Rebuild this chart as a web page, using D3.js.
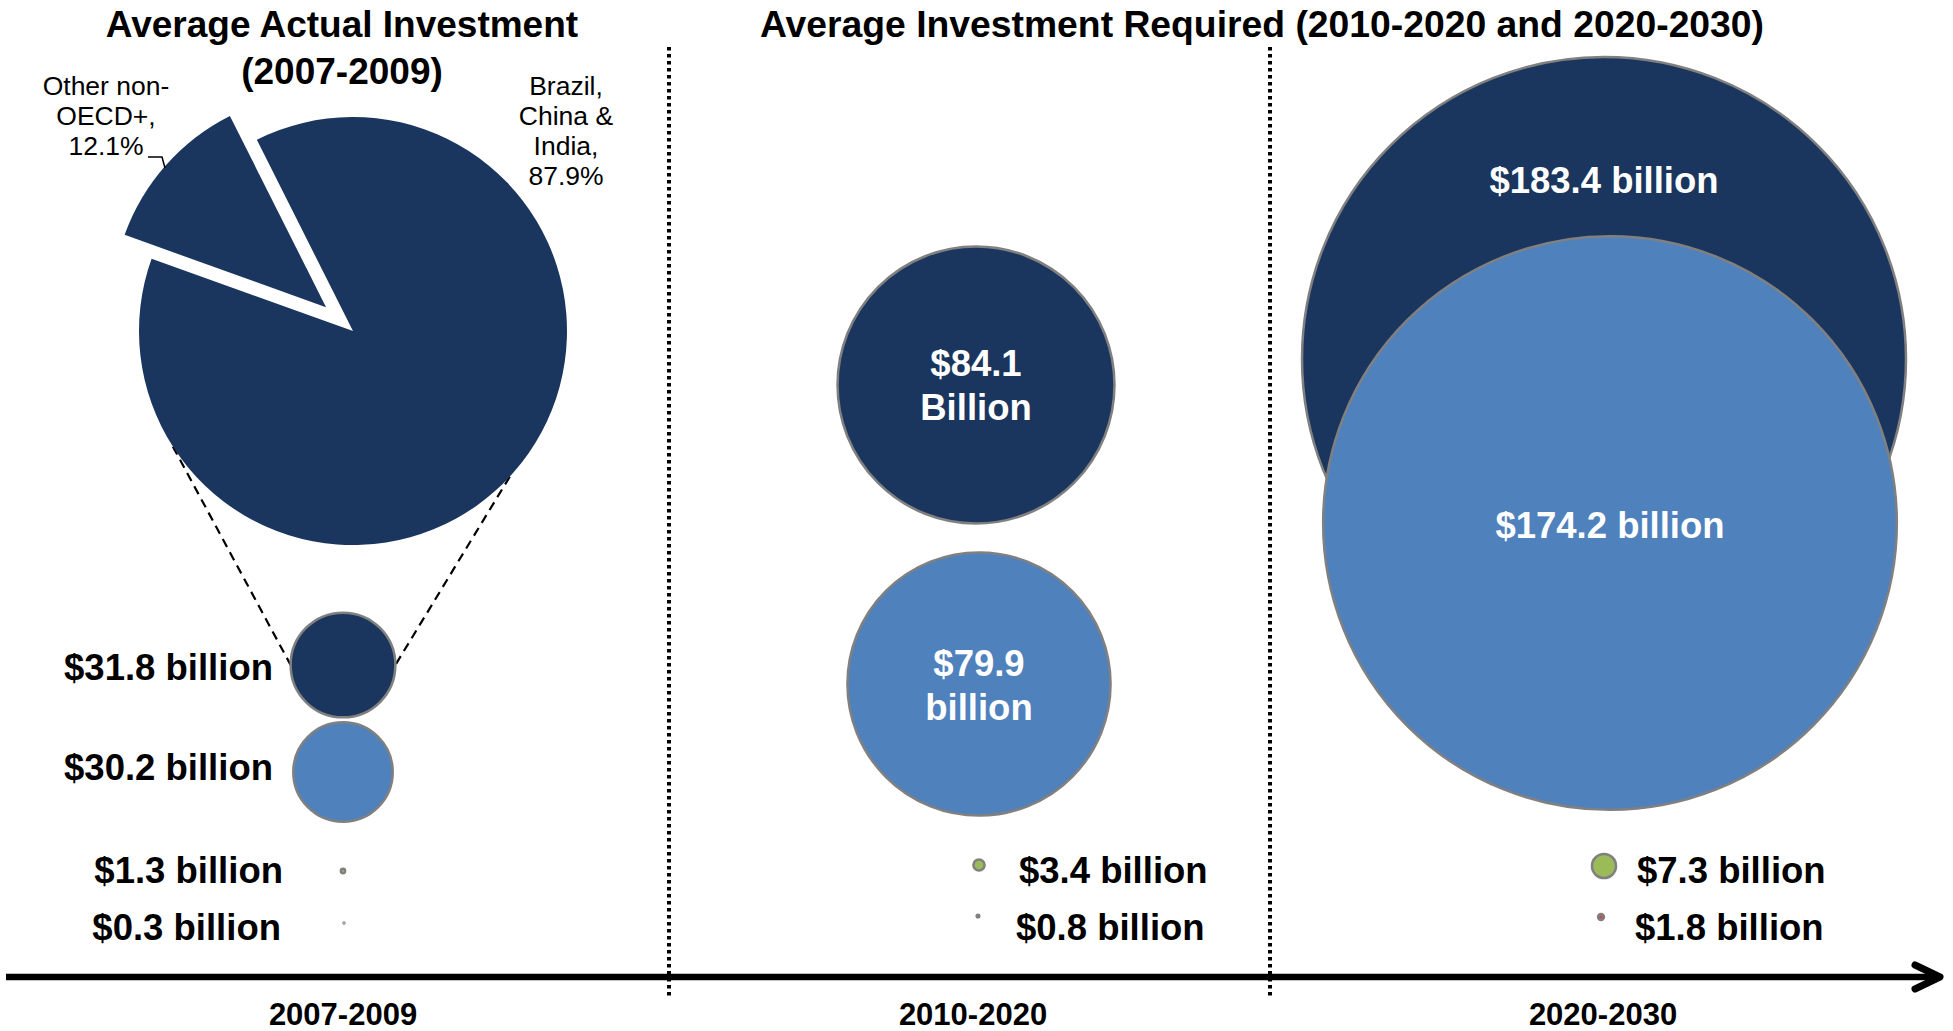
<!DOCTYPE html>
<html>
<head>
<meta charset="utf-8">
<script src="https://cdn.jsdelivr.net/npm/d3@7"></script>
<style>
  body { margin: 0; background: #fff; }
  svg { display: block; }
  text { font-family: "Liberation Sans", Arial, Helvetica, sans-serif; }
</style>
</head>
<body>
<svg id="chart" width="1953" height="1031"></svg>
<script>
// ---- Data (US$ billion per year) ----
const periods = ["2007-2009", "2010-2020", "2020-2030"];
const tier1Values = [31.8, 84.1, 183.4];
const tier2Values = [30.2, 79.9, 174.2];
const tier3Values = [1.3, 3.4, 7.3];
const tier4Values = [0.3, 0.8, 1.8];
const tier1Words = ["billion", "Billion", "billion"];

// Split of the 2007-2009 top tier
const pieShares = [87.9, 12.1];
const pieNames = [["Brazil,", "China &", "India,"], ["Other non-", "OECD+,"]];

const titleLeft = ["Average Actual Investment", "(2007-2009)"];
const titleRight = "Average Investment Required (2010-2020 and 2020-2030)";

// ---- Styling ----
const colors = ["#1b365e", "#4f81bd", "#9bbb59", "#c0504d"];
const outline = "#808080";

const svg = d3.select("#chart");

// Horizontal placement of the periods along the timeline
const x = d3.scalePoint().domain(periods).range([343, 1603]);

// Radius proportional to the value
const allValues = [...tier1Values, ...tier2Values, ...tier3Values, ...tier4Values];
const r = d3.scaleLinear().domain([0, d3.max(allValues)]).range([0, 302]);

const fmt = v => "$" + d3.format(".1f")(v);

// Vertical centres and small horizontal nudges for each tier in each period
const place = [
  // 2007-2009
  [{dx: 0, cy: 665}, {dx: 0, cy: 772}, {dx: 0, cy: 871}, {dx: 1, cy: 923}],
  // 2010-2020
  [{dx: 3, cy: 385}, {dx: 6, cy: 684}, {dx: 6, cy: 865}, {dx: 5, cy: 916}],
  // 2020-2030
  [{dx: 1, cy: 359}, {dx: 7, cy: 523}, {dx: 1, cy: 866}, {dx: -2, cy: 917}]
];

const tiers = [tier1Values, tier2Values, tier3Values, tier4Values];
const bubbles = [];
periods.forEach((p, i) => {
  tiers.forEach((vals, t) => {
    bubbles.push({
      period: p, pi: i, tier: t, value: vals[i],
      cx: x(p) + place[i][t].dx, cy: place[i][t].cy
    });
  });
});

// ---- Panel separators ----
const sepX = [669, 1270];
svg.append("g").selectAll("line").data(sepX).join("line")
  .attr("x1", d => d).attr("x2", d => d)
  .attr("y1", 47).attr("y2", 996)
  .attr("stroke", "#000").attr("stroke-width", 4)
  .attr("stroke-dasharray", "3.5,3.5");

// ---- Timeline arrow ----
const axisY = 977;
svg.append("line")
  .attr("x1", 6).attr("x2", 1936).attr("y1", axisY).attr("y2", axisY)
  .attr("stroke", "#000").attr("stroke-width", 6.5);
svg.append("path")
  .attr("d", `M1915,${axisY - 12}L1940,${axisY}L1915,${axisY + 12}`)
  .attr("fill", "none").attr("stroke", "#000").attr("stroke-width", 7)
  .attr("stroke-linecap", "round").attr("stroke-linejoin", "round");

svg.append("g").selectAll("text").data(periods).join("text")
  .attr("x", d => x(d)).attr("y", 1025)
  .attr("text-anchor", "middle")
  .attr("font-size", 31).attr("font-weight", "bold")
  .text(d => d);

// ---- Titles ----
svg.append("g").selectAll("text").data(titleLeft).join("text")
  .attr("x", 342).attr("y", (d, i) => 37 + i * 47)
  .attr("text-anchor", "middle")
  .attr("font-size", 37).attr("font-weight", "bold")
  .text(d => d);
svg.append("text")
  .attr("x", 1262).attr("y", 37)
  .attr("text-anchor", "middle")
  .attr("font-size", 37.3).attr("font-weight", "bold")
  .text(titleRight);

// ---- Pie of the 2007-2009 top tier ----
const pieC = {x: 353, y: 331}, pieR = 214, explode = 36;
const startA = -26.7 * Math.PI / 180;
const pie = d3.pie().sort(null).startAngle(startA).endAngle(startA + 2 * Math.PI);
const arcs = pie(pieShares);
const arc = d3.arc().innerRadius(0).outerRadius(pieR);

// Dashed guide lines from the pie down to the bubble it expands
const first = bubbles.find(b => b.pi === 0 && b.tier === 0);
const guideAngles = [237.3, 132.9].map(a => a * Math.PI / 180);
svg.append("g").selectAll("line").data(guideAngles).join("line")
  .attr("x1", a => pieC.x + pieR * Math.sin(a))
  .attr("y1", a => pieC.y - pieR * Math.cos(a))
  .attr("x2", (a, i) => first.cx + (i === 0 ? -1 : 1) * r(first.value))
  .attr("y2", first.cy)
  .attr("stroke", "#000").attr("stroke-width", 2.2)
  .attr("stroke-dasharray", "9,6");

const pieG = svg.append("g").attr("transform", `translate(${pieC.x},${pieC.y})`);
pieG.selectAll("path").data(arcs).join("path")
  .attr("d", arc)
  .attr("fill", colors[0])
  .attr("transform", (d, i) => {
    if (i === 0) return null;
    const mid = (d.startAngle + d.endAngle) / 2;
    return `translate(${explode * Math.sin(mid)},${-explode * Math.cos(mid)})`;
  });

// Pie labels
const pieLabelPos = [{x: 566, y: 95}, {x: 106, y: 95}];
arcs.forEach((d, i) => {
  const lines = [...pieNames[i], d3.format(".1f")(d.data) + "%"];
  svg.append("g").selectAll("text").data(lines).join("text")
    .attr("x", pieLabelPos[i].x).attr("y", (l, j) => pieLabelPos[i].y + j * 30)
    .attr("text-anchor", "middle")
    .attr("font-size", 26.5)
    .text(l => l);
});
// Leader line for the small slice
svg.append("path")
  .attr("d", "M148,157H162L165,168")
  .attr("fill", "none").attr("stroke", "#000").attr("stroke-width", 1.5);

// ---- Bubbles ----
svg.append("g").selectAll("circle").data(bubbles).join("circle")
  .attr("cx", d => d.cx).attr("cy", d => d.cy)
  .attr("r", d => r(d.value))
  .attr("fill", d => colors[d.tier])
  .attr("stroke", outline).attr("stroke-width", 2.5);

// ---- Value labels ----
const word = d => d.tier === 0 ? tier1Words[d.pi] : "billion";

// Labels written beside the bubbles
const sideLabels = [
  {pi: 0, tier: 0, x: 273, y: 680, anchor: "end"},
  {pi: 0, tier: 1, x: 273, y: 780, anchor: "end"},
  {pi: 0, tier: 2, x: 283, y: 883, anchor: "end"},
  {pi: 0, tier: 3, x: 281, y: 940, anchor: "end"},
  {pi: 1, tier: 2, x: 1019, y: 883, anchor: "start"},
  {pi: 1, tier: 3, x: 1016, y: 940, anchor: "start"},
  {pi: 2, tier: 2, x: 1637, y: 883, anchor: "start"},
  {pi: 2, tier: 3, x: 1635, y: 940, anchor: "start"}
];
svg.append("g").selectAll("text").data(sideLabels).join("text")
  .attr("x", d => d.x).attr("y", d => d.y)
  .attr("text-anchor", d => d.anchor)
  .attr("font-size", 36.5).attr("font-weight", "bold").attr("fill", "#000")
  .text(d => {
    const b = bubbles.find(q => q.pi === d.pi && q.tier === d.tier);
    return fmt(b.value) + " " + word(b);
  });

// Labels written inside the bubbles (baselines relative to the centre)
const insideLabels = [
  {pi: 1, tier: 0, lines: 2, y: -9},
  {pi: 1, tier: 1, lines: 2, y: -8},
  {pi: 2, tier: 0, lines: 1, y: -166},
  {pi: 2, tier: 1, lines: 1, y: 15}
];
insideLabels.forEach(d => {
  const b = bubbles.find(q => q.pi === d.pi && q.tier === d.tier);
  const parts = d.lines === 2 ? [fmt(b.value), word(b)] : [fmt(b.value) + " " + word(b)];
  svg.append("g").selectAll("text").data(parts).join("text")
    .attr("x", b.cx).attr("y", (t, j) => b.cy + d.y + j * 44)
    .attr("text-anchor", "middle")
    .attr("font-size", 36.5).attr("font-weight", "bold").attr("fill", "#fff")
    .text(t => t);
});
</script>
</body>
</html>
